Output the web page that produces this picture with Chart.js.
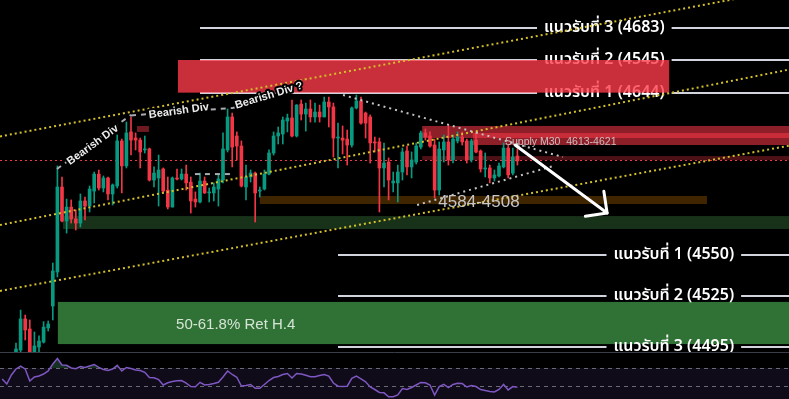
<!DOCTYPE html>
<html><head><meta charset="utf-8">
<script src="https://cdn.jsdelivr.net/npm/chart.js@4.4.1/dist/chart.umd.min.js"></script>
<style>
html,body{margin:0;padding:0;background:#000;overflow:hidden}
#wrap{position:relative;width:789px;height:399px;background:#000}
#main{position:absolute;left:0;top:0}
#rsi{position:absolute;left:0;top:352px}
</style></head><body>
<div id="wrap"><canvas id="main" width="789" height="352"></canvas><canvas id="rsi" width="789" height="47"></canvas></div>
<script>
// ---- candle data (price), one entry per bar ----
const openP = [4492.0,4494.1,4512.4,4506.5,4492.5,4495.9,4498.8,4507.1,4520.0,4540.0,
4590.0,4570.0,4578.2,4571.2,4568.8,4581.8,4578.8,4587.6,4597.6,4589.4,
4595.3,4585.9,4590.6,4617.1,4602.4,4622.4,4618.8,4617.6,4611.8,4612.4,
4594.1,4595.3,4600.6,4588.2,4578.2,4595.3,4594.7,4597.6,4592.9,4582.9,
4581.2,4593.5,4586.5,4586.5,4588.8,4594.1,4611.8,4631.2,4620.0,4614.1,
4590.0,4595.9,4598.2,4587.6,4588.8,4597.6,4610.0,4620.0,4621.2,4628.8,
4630.6,4620.0,4638.8,4632.9,4635.9,4631.2,4634.1,4631.2,4640.0,4637.1,
4618.8,4618.8,4618.2,4614.7,4636.5,4640.6,4633.5,4631.2,4616.5,4616.5,
4601.2,4604.7,4592.4,4592.4,4598.8,4611.2,4601.8,4604.7,4613.5,4621.8,
4620.0,4614.7,4588.2,4611.8,4616.5,4605.9,4617.1,4619.4,4617.1,4605.9,
4617.6,4611.2,4600.6,4601.2,4595.3,4596.5,4601.8,4612.9,4598.2,4608.2];
const highP = [4498.2,4517.6,4514.7,4511.8,4504.7,4502.4,4510.8,4511.2,4545.3,4602.4,
4595.9,4582.9,4582.4,4576.5,4585.9,4584.1,4590.6,4598.8,4600.0,4596.5,
4595.9,4591.8,4620.6,4618.2,4628.2,4631.2,4621.8,4618.8,4620.0,4612.9,
4601.8,4608.8,4601.2,4595.9,4595.9,4600.6,4600.6,4602.9,4595.9,4587.1,
4598.2,4595.9,4589.4,4592.4,4597.1,4621.8,4635.9,4633.5,4622.4,4617.1,
4602.9,4600.0,4598.8,4590.0,4600.0,4611.8,4622.4,4625.3,4631.2,4632.9,
4641.2,4638.5,4641.2,4639.4,4641.2,4639.4,4638.2,4642.9,4642.9,4639.4,
4627.6,4625.9,4623.5,4637.1,4644.1,4642.9,4634.1,4632.4,4619.4,4618.8,
4615.9,4607.1,4598.8,4602.9,4612.9,4614.1,4610.6,4615.9,4622.9,4624.1,
4622.4,4618.2,4616.5,4620.6,4626.5,4620.6,4622.4,4622.4,4618.2,4618.2,
4622.4,4611.8,4610.0,4602.9,4600.0,4604.1,4615.9,4614.7,4612.9,4612.4];
const lowP = [4490.0,4491.0,4500.0,4490.0,4490.0,4491.0,4498.2,4505.3,4511.8,4537.1,
4569.4,4562.9,4568.8,4564.7,4566.5,4570.6,4575.3,4580.6,4588.2,4587.1,
4582.4,4579.4,4589.4,4586.5,4601.2,4608.8,4611.8,4601.2,4610.0,4593.5,
4590.0,4578.8,4586.5,4577.1,4578.2,4594.1,4594.1,4588.2,4574.7,4578.2,
4580.6,4586.2,4581.2,4581.8,4578.8,4592.4,4610.6,4601.8,4605.9,4590.0,
4582.4,4592.9,4569.4,4584.1,4588.2,4597.1,4608.8,4615.3,4615.3,4622.4,
4619.4,4619.4,4629.4,4622.9,4628.2,4628.2,4628.2,4631.2,4625.3,4607.6,
4601.2,4609.4,4602.9,4613.5,4635.9,4627.0,4618.8,4604.1,4610.6,4575.3,
4590.0,4582.4,4587.1,4581.2,4594.1,4597.1,4595.3,4603.5,4612.4,4617.6,
4613.5,4583.5,4585.3,4604.7,4602.9,4604.1,4615.9,4614.7,4604.1,4604.7,
4610.0,4598.8,4595.9,4592.4,4593.5,4595.9,4601.2,4595.3,4597.1,4602.9];
const closeP = [4494.7,4512.4,4505.9,4492.5,4496.5,4499.4,4507.6,4509.4,4540.6,4590.0,
4570.0,4578.2,4571.2,4568.8,4581.8,4578.8,4588.8,4597.6,4589.4,4595.3,
4585.9,4591.2,4617.1,4602.4,4621.8,4617.6,4617.6,4610.6,4612.4,4594.1,
4598.2,4600.0,4587.6,4578.2,4595.3,4594.7,4597.6,4592.4,4581.8,4581.2,
4593.5,4586.5,4587.1,4590.0,4594.7,4612.4,4631.2,4613.5,4614.1,4590.6,
4595.9,4598.2,4586.5,4588.2,4597.6,4610.0,4620.0,4621.8,4629.4,4630.6,
4620.0,4638.2,4632.9,4635.9,4631.2,4634.1,4631.2,4640.0,4637.1,4618.8,
4619.2,4617.6,4614.7,4636.5,4640.6,4627.6,4627.6,4615.9,4615.9,4601.2,
4604.1,4594.1,4593.5,4598.8,4610.6,4601.8,4605.9,4614.1,4621.8,4619.4,
4614.1,4588.2,4612.4,4616.5,4605.9,4618.2,4619.4,4616.5,4605.9,4617.1,
4610.6,4600.6,4601.2,4595.3,4597.1,4602.4,4612.9,4597.1,4607.6,4605.3];

// ---- RSI (starts 3 bars before first visible candle) ----
const rsiStartIndex = -3;
const rsiValues = [57.8,52.2,62.2,
68.9,72.2,68.9,55.6,60.0,61.1,63.3,66.7,74.4,80.6,
73.3,73.0,70.0,69.2,71.7,70.6,72.2,73.9,70.6,68.3,
67.2,68.9,73.0,66.7,70.6,69.4,67.8,67.2,65.2,59.4,
59.2,57.2,51.1,53.6,55.0,55.8,56.1,53.3,49.4,49.2,
54.1,51.1,51.7,52.8,54.1,60.0,66.7,62.8,59.7,50.0,
50.6,51.7,47.4,47.4,51.7,56.1,59.4,60.6,62.8,63.9,
58.9,63.9,63.3,62.0,60.3,60.3,61.7,62.8,61.1,53.3,
49.8,49.4,49.8,58.6,61.0,57.8,54.7,48.9,46.1,42.8,
42.4,38.1,38.1,40.0,47.2,46.1,48.3,51.1,54.0,53.6,
51.1,40.0,49.4,51.8,48.3,51.7,53.0,52.7,48.9,50.6,
49.4,46.1,45.0,43.9,43.3,46.1,51.7,45.6,49.4,48.6];
const rsiLevels = [70, 50, 30];

// ---- annotations (bar index / price units) ----
const supportLabels = ['แนวรับที่ 3 (4683)','แนวรับที่ 2 (4545)','แนวรับที่ 1 (4644)','แนวรับที่ 1 (4550)','แนวรับที่ 2 (4525)','แนวรับที่ 3 (4495)'];
const supportPrices = [4683.5, 4664.7, 4645.3, 4550.0, 4525.9, 4495.9];
const supportStartIdx = [40, 40, 40, 70, 70, 70];
const supportLabelIdx = [127.9, 127.9, 127.9, 143.0, 143.0, 143.0];

const zoneStartIdx = [88.3, 99.3, 88.3, 53.0, 10.2, 9.1, 26.3];
const zoneEndIdx   = [null, null, null, 150.2, null, null, 28.9];
const zoneTop      = [4625.9, 4621.8, 4608.2, 4584.7, 4572.9, 4522.4, 4625.9];
const zoneBottom   = [4618.8, 4614.7, 4605.9, 4580.0, 4565.3, 4497.6, 4622.4];
const zoneColors   = ['rgba(242,54,69,0.58)','rgba(242,54,69,0.58)','rgba(242,54,69,0.32)','#402600','#18321a','#307236','#6e1a20'];

const resistanceZone = {from: 35.2, to: 142, top: 4664.7, bottom: 4645.5};
const lastPrice = 4605.9;

const channelA = [[0, 4621.5],[100, 4672.1]];
const channelB = [[0, 4569.5],[100, 4622.8]];
const channelC = [[0, 4530.6],[100, 4580.4]];
const triangleUpper = [[71.1, 4644.1],[118.9, 4607.6]];
const triangleLower = [[87.2, 4579.4],[116.5, 4602.1]];
const divSegments = [
  [[8.9, 4600.6],[25.0, 4632.4]],
  [[25.0, 4632.1],[47.2, 4636.5]],
  [[47.2, 4636.5],[62.0, 4651.0]],
  [[38.9, 4597.6],[47.2, 4597.6]]
];
const divTexts = ['Bearish Div','Bearish Div','Bearish Div ?'];
const divTextIdx = [16.7, 35.4, 55.0];
const divTextPrice = [4614.7, 4634.7, 4643.8];
const divTextAngle = [-36, -8, -17];

const arrowFrom = [108.5, 4614.7];
const arrowTo = [128.5, 4574.7];

const noteTexts = ['Supply M30  4613-4621', '4584-4508', '50-61.8% Ret H.4'];
const noteIdx = [106.3, 100.65, 34.8];
const notePrice = [4616.5, 4581.2, 4508.8];

// ---- chart geometry ----
const X_MIN = -16/4.6, X_MAX = (789-16)/4.6;
const Y_MAX = 4700, Y_MIN = 4700 - 352/1.7;
const R_MAX = 50 + 34/0.9, R_MIN = 50 - 13/0.9;

const GREEN = '#089981', RED = '#f23645';
function candleColor(i){ if (i === undefined) return GREEN; return closeP[i] >= openP[i] ? GREEN : RED; }

const overlay = {
  id: 'overlay',
  beforeDatasetsDraw(chart){
    const {ctx, chartArea: a, scales: {x, y}} = chart;
    ctx.save();
    for (let k = 0; k < zoneStartIdx.length; k++){
      const x0 = x.getPixelForValue(zoneStartIdx[k]);
      const x1 = zoneEndIdx[k] === null ? a.right : x.getPixelForValue(zoneEndIdx[k]);
      const y0 = y.getPixelForValue(zoneTop[k]), y1 = y.getPixelForValue(zoneBottom[k]);
      ctx.fillStyle = zoneColors[k];
      ctx.fillRect(x0, y0, x1 - x0, y1 - y0);
    }
    const yl = Math.round(y.getPixelForValue(lastPrice)) + 0.5;
    ctx.strokeStyle = RED; ctx.lineWidth = 1; ctx.setLineDash([2,3]);
    ctx.beginPath(); ctx.moveTo(a.left, yl); ctx.lineTo(a.right, yl); ctx.stroke();
    ctx.restore();
  },
  afterDatasetsDraw(chart){
    const {ctx, chartArea: a, scales: {x, y}} = chart;
    const P = (p) => [x.getPixelForValue(p[0]), y.getPixelForValue(p[1])];
    ctx.save();
    ctx.font = '600 16px "Noto Sans Thai", Tahoma, "Noto Sans", "DejaVu Sans", sans-serif';
    ctx.textBaseline = 'middle'; ctx.textAlign = 'center';
    for (let k = 0; k < supportPrices.length; k++){
      const yy = Math.round(y.getPixelForValue(supportPrices[k]));
      const xs = x.getPixelForValue(supportStartIdx[k]);
      const xc = x.getPixelForValue(supportLabelIdx[k]);
      const w = ctx.measureText(supportLabels[k]).width;
      ctx.strokeStyle = '#d1d4dc'; ctx.lineWidth = 2; ctx.setLineDash([]);
      ctx.beginPath();
      ctx.moveTo(xs, yy); ctx.lineTo(xc - w/2 - 7, yy);
      ctx.moveTo(xc + w/2 + 7, yy); ctx.lineTo(a.right, yy);
      ctx.stroke();
      ctx.fillStyle = '#ffffff';
      ctx.fillText(supportLabels[k], xc, yy + 1);
    }
    {
      const x0 = x.getPixelForValue(resistanceZone.from), x1 = x.getPixelForValue(resistanceZone.to);
      const y0 = y.getPixelForValue(resistanceZone.top), y1 = y.getPixelForValue(resistanceZone.bottom);
      ctx.fillStyle = 'rgba(255,58,75,0.79)';
      ctx.fillRect(x0, y0, x1 - x0, y1 - y0);
    }
    ctx.strokeStyle = '#d2bf2a'; ctx.lineWidth = 2; ctx.setLineDash([2,3]);
    for (const ln of [channelA, channelB, channelC]){
      const p0 = P(ln[0]), p1 = P(ln[1]);
      const s = (p1[1] - p0[1]) / (p1[0] - p0[0]);
      ctx.beginPath();
      ctx.moveTo(a.left, p0[1] + s * (a.left - p0[0]));
      ctx.lineTo(a.right, p0[1] + s * (a.right - p0[0]));
      ctx.stroke();
    }
    ctx.strokeStyle = '#c4c4c4'; ctx.lineWidth = 2; ctx.setLineDash([2,4]);
    for (const ln of [triangleUpper, triangleLower]){
      const p0 = P(ln[0]), p1 = P(ln[1]);
      ctx.beginPath(); ctx.moveTo(p0[0], p0[1]); ctx.lineTo(p1[0], p1[1]); ctx.stroke();
    }
    ctx.strokeStyle = '#a9abb3'; ctx.lineWidth = 2; ctx.setLineDash([5,5]);
    for (const ln of divSegments){
      const p0 = P(ln[0]), p1 = P(ln[1]);
      ctx.beginPath(); ctx.moveTo(p0[0], p0[1]); ctx.lineTo(p1[0], p1[1]); ctx.stroke();
    }
    ctx.setLineDash([]);
    ctx.font = 'bold 11px "Liberation Sans", Arial, sans-serif';
    ctx.textAlign = 'center'; ctx.textBaseline = 'middle';
    for (let k = 0; k < divTexts.length; k++){
      const c = P([divTextIdx[k], divTextPrice[k]]);
      ctx.save();
      ctx.translate(c[0], c[1]); ctx.rotate(divTextAngle[k] * Math.PI / 180);
      ctx.lineWidth = 4; ctx.strokeStyle = '#000'; ctx.lineJoin = 'round';
      ctx.strokeText(divTexts[k], 0, 0);
      ctx.fillStyle = '#ececec';
      ctx.fillText(divTexts[k], 0, 0);
      ctx.restore();
    }
    ctx.textBaseline = 'middle';
    {
      let c = P([noteIdx[0], notePrice[0]]);
      ctx.font = '10.5px "Liberation Sans", Arial, sans-serif'; ctx.textAlign = 'left';
      ctx.fillStyle = 'rgba(215,215,215,0.85)'; ctx.fillText(noteTexts[0], c[0], c[1]);
      c = P([noteIdx[1], notePrice[1]]);
      ctx.font = '17px "Liberation Sans Narrow", "Liberation Sans", Arial, sans-serif'; ctx.textAlign = 'center';
      ctx.fillStyle = '#c6c6c6'; ctx.fillText(noteTexts[1], c[0], c[1]);
      c = P([noteIdx[2], notePrice[2]]);
      ctx.font = '15px "Liberation Sans", Arial, sans-serif'; ctx.textAlign = 'left';
      ctx.fillStyle = '#d6e4d6'; ctx.fillText(noteTexts[2], c[0], c[1]);
    }
    {
      const p0 = P(arrowFrom), p1 = P(arrowTo);
      const ang = Math.atan2(p1[1] - p0[1], p1[0] - p0[0]);
      const L = 22;
      ctx.strokeStyle = '#ffffff'; ctx.lineWidth = 3; ctx.lineCap = 'round'; ctx.lineJoin = 'round';
      ctx.beginPath(); ctx.moveTo(p0[0], p0[1]); ctx.lineTo(p1[0], p1[1]); ctx.stroke();
      ctx.beginPath();
      ctx.moveTo(p1[0] + L * Math.cos(ang + Math.PI - Math.PI/4), p1[1] + L * Math.sin(ang + Math.PI - Math.PI/4));
      ctx.lineTo(p1[0], p1[1]);
      ctx.lineTo(p1[0] + L * Math.cos(ang + Math.PI + Math.PI/4), p1[1] + L * Math.sin(ang + Math.PI + Math.PI/4));
      ctx.stroke();
    }
    ctx.restore();
  }
};

new Chart(document.getElementById('main'), {
  type: 'bar',
  data: { datasets: [
    { label: 'wick', data: openP.map((o, i) => ({x: i, y: [lowP[i], highP[i]]})),
      backgroundColor: c => candleColor(c.dataIndex), barThickness: 1, grouped: false, order: 2, borderWidth: 0 },
    { label: 'body', data: openP.map((o, i) => ({x: i, y: [o, closeP[i]]})),
      backgroundColor: c => candleColor(c.dataIndex), barThickness: 3, minBarLength: 1, grouped: false, order: 1, borderWidth: 0 }
  ]},
  options: {
    responsive: false, animation: false, devicePixelRatio: 1, events: [],
    layout: { padding: 0 },
    plugins: { legend: { display: false }, tooltip: { enabled: false } },
    scales: {
      x: { type: 'linear', min: X_MIN, max: X_MAX, display: false, offset: false },
      y: { min: Y_MIN, max: Y_MAX, display: false }
    }
  },
  plugins: [overlay]
});

const rsiPanel = {
  id: 'rsiPanel',
  beforeDatasetsDraw(chart){
    const {ctx, chartArea: a, scales: {y}} = chart;
    ctx.save();
    const y70 = y.getPixelForValue(rsiLevels[0]), y30 = y.getPixelForValue(rsiLevels[2]);
    ctx.fillStyle = 'rgba(126,87,194,0.12)';
    ctx.fillRect(a.left, y70, a.right - a.left, y30 - y70);
    ctx.strokeStyle = 'rgba(120,123,134,0.85)'; ctx.lineWidth = 1; ctx.setLineDash([4,4]);
    for (const lv of rsiLevels){
      const yy = Math.round(y.getPixelForValue(lv)) + 0.5;
      ctx.beginPath(); ctx.moveTo(a.left, yy); ctx.lineTo(a.right, yy); ctx.stroke();
    }
    ctx.setLineDash([]);
    ctx.strokeStyle = '#3b3e48'; ctx.lineWidth = 1;
    ctx.beginPath(); ctx.moveTo(a.left, 0.5); ctx.lineTo(a.right, 0.5); ctx.stroke();
    ctx.restore();
  }
};

new Chart(document.getElementById('rsi'), {
  type: 'line',
  data: { datasets: [{
    data: rsiValues.map((v, k) => ({x: rsiStartIndex + k, y: v})),
    borderColor: '#7e57c2', borderWidth: 1.5, pointRadius: 0, tension: 0,
    fill: { target: { value: 70 }, above: 'rgba(60,140,90,0.35)', below: 'rgba(0,0,0,0)' }
  }]},
  options: {
    responsive: false, animation: false, devicePixelRatio: 1, events: [],
    layout: { padding: 0 },
    plugins: { legend: { display: false }, tooltip: { enabled: false } },
    scales: {
      x: { type: 'linear', min: X_MIN, max: X_MAX, display: false },
      y: { min: R_MIN, max: R_MAX, display: false }
    }
  },
  plugins: [rsiPanel]
});
</script>
</body></html>
